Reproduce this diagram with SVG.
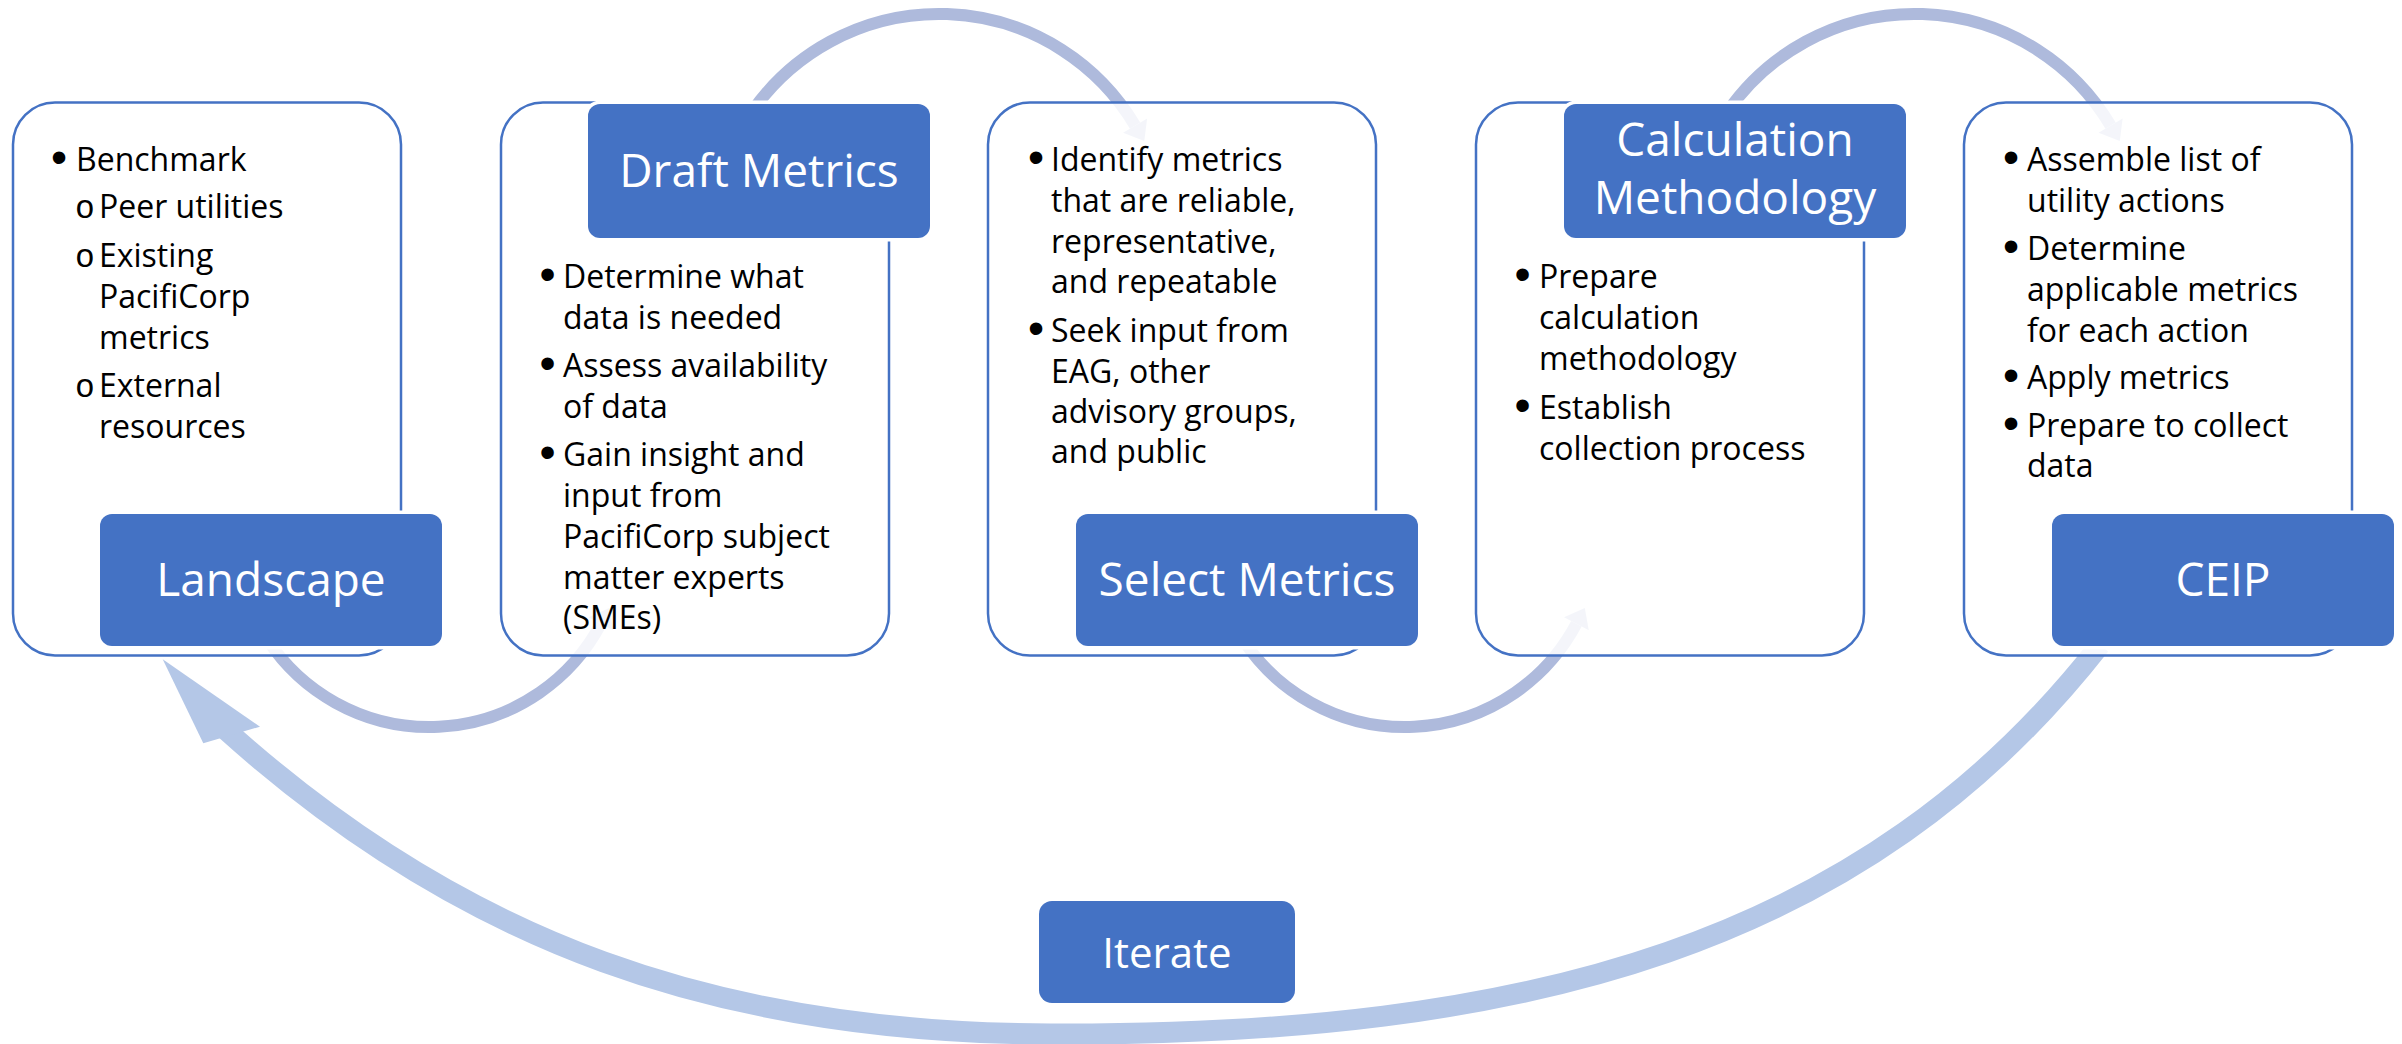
<svg xmlns="http://www.w3.org/2000/svg" width="2402" height="1044" viewBox="0 0 2402 1044">
<defs>
<style>
.box{fill:#fff;fill-opacity:.86;stroke:#4472c4;stroke-width:2.5}
.lbl{fill:#4472c4;stroke:#fff;stroke-width:7;paint-order:stroke}
.lt{font-family:"Open Sans","Noto Sans",sans-serif;font-size:46px;fill:#fff;text-anchor:middle}
.bt{font-family:"Open Sans","Noto Sans",sans-serif;font-size:32px;fill:#000}
.dot{font-family:"Liberation Sans",Arial,sans-serif;font-size:46px;fill:#000;text-anchor:middle}
.sub{font-family:"Liberation Mono",monospace;font-size:33px;fill:#000;text-anchor:middle}
.arc{fill:none;stroke:#aebadc;stroke-width:12;marker-end:url(#head)}
.loop{fill:none;stroke:#b4c7e7;stroke-width:21}
</style>
<marker id="head" markerUnits="userSpaceOnUse" markerWidth="20" markerHeight="30" viewBox="0 -15 20 30" refX="0" refY="0" orient="auto" overflow="visible">
<path d="M0,-14 L18,0 L0,14 z" fill="#aebadc"/>
</marker>
</defs>
<rect width="2402" height="1044" fill="#fff"/>

<!-- connectors sit beneath the step boxes so they show faintly through them -->
<g id="connectors">
<path class="arc" d="M267.7,640 A194,194 0 0 0 600.9,623.8"/>
<path class="arc" d="M751.7,112 A228,228 0 0 1 1135.1,125.6"/>
<path class="arc" d="M1243.2,640 A194,194 0 0 0 1576.4,623.8"/>
<path class="arc" d="M1727.2,112 A228,228 0 0 1 2110.6,125.6"/>
<path class="loop" d="M2100,645 C1866,944 1530,1036 1050,1034 C720,1033 464,944 226,730"/>
<polygon points="162.7,659.3 260,726.7 203.3,743.3" fill="#b4c7e7"/>
</g>

<g id="landscape">
<rect class="box" x="13" y="102.5" width="388" height="553" rx="42"/>
<text class="dot" x="59" y="173">•</text>
<text class="bt" x="76" y="171">Benchmark</text>
<text class="sub" x="85" y="218">o</text>
<text class="bt" x="99" y="218">Peer utilities</text>
<text class="sub" x="85" y="267">o</text>
<text class="bt"><tspan x="99" y="267">Existing</tspan><tspan x="99" y="308">PacifiCorp</tspan><tspan x="99" y="349">metrics</tspan></text>
<text class="sub" x="85" y="397">o</text>
<text class="bt"><tspan x="99" y="397">External</tspan><tspan x="99" y="438">resources</tspan></text>
<rect class="lbl" x="100" y="514" width="342" height="132" rx="12"/>
<text class="lt" x="271" y="596">Landscape</text>
</g>

<g id="draft-metrics">
<rect class="box" x="501" y="102.5" width="388" height="553" rx="42"/>
<text class="dot" x="547.5" y="290">•</text>
<text class="bt"><tspan x="563" y="288">Determine what</tspan><tspan x="563" y="329">data is needed</tspan></text>
<text class="dot" x="547.5" y="379">•</text>
<text class="bt"><tspan x="563" y="377">Assess availability</tspan><tspan x="563" y="418">of data</tspan></text>
<text class="dot" x="547.5" y="468">•</text>
<text class="bt"><tspan x="563" y="466">Gain insight and</tspan><tspan x="563" y="507">input from</tspan><tspan x="563" y="548">PacifiCorp subject</tspan><tspan x="563" y="589">matter experts</tspan><tspan x="563" y="629">(SMEs)</tspan></text>
<rect class="lbl" x="588" y="104" width="342" height="134" rx="12"/>
<text class="lt" x="759" y="187">Draft Metrics</text>
</g>

<g id="select-metrics">
<rect class="box" x="988" y="102.5" width="388" height="553" rx="42"/>
<text class="dot" x="1036" y="173">•</text>
<text class="bt"><tspan x="1051" y="171">Identify metrics</tspan><tspan x="1051" y="212">that are reliable,</tspan><tspan x="1051" y="252.5">representative,</tspan><tspan x="1051" y="293">and repeatable</tspan></text>
<text class="dot" x="1036" y="344">•</text>
<text class="bt"><tspan x="1051" y="342">Seek input from</tspan><tspan x="1051" y="382.5">EAG, other</tspan><tspan x="1051" y="423">advisory groups,</tspan><tspan x="1051" y="463">and public</tspan></text>
<rect class="lbl" x="1076" y="514" width="342" height="132" rx="12"/>
<text class="lt" x="1247" y="596">Select Metrics</text>
</g>

<g id="calculation-methodology">
<rect class="box" x="1476" y="102.5" width="388" height="553" rx="42"/>
<text class="dot" x="1522.5" y="290">•</text>
<text class="bt"><tspan x="1539" y="288">Prepare</tspan><tspan x="1539" y="329">calculation</tspan><tspan x="1539" y="370">methodology</tspan></text>
<text class="dot" x="1522.5" y="420.5">•</text>
<text class="bt"><tspan x="1539" y="418.5">Establish</tspan><tspan x="1539" y="459.5">collection process</tspan></text>
<rect class="lbl" x="1564" y="104" width="342" height="134" rx="12"/>
<text class="lt"><tspan x="1735" y="156">Calculation</tspan><tspan x="1735" y="214">Methodology</tspan></text>
</g>

<g id="ceip">
<rect class="box" x="1964" y="102.5" width="388" height="553" rx="42"/>
<text class="dot" x="2011" y="173">•</text>
<text class="bt"><tspan x="2027" y="171">Assemble list of</tspan><tspan x="2027" y="212">utility actions</tspan></text>
<text class="dot" x="2011" y="262">•</text>
<text class="bt"><tspan x="2027" y="260">Determine</tspan><tspan x="2027" y="301">applicable metrics</tspan><tspan x="2027" y="342">for each action</tspan></text>
<text class="dot" x="2011" y="391">•</text>
<text class="bt" x="2027" y="389">Apply metrics</text>
<text class="dot" x="2011" y="439">•</text>
<text class="bt"><tspan x="2027" y="437">Prepare to collect</tspan><tspan x="2027" y="477">data</tspan></text>
<rect class="lbl" x="2052" y="514" width="342" height="132" rx="12"/>
<text class="lt" x="2223" y="596">CEIP</text>
</g>

<g id="iterate">
<rect x="1039" y="901" width="256" height="102" rx="13" fill="#4472c4"/>
<text class="lt" x="1167" y="968" style="font-size:42px">Iterate</text>
</g>
</svg>
